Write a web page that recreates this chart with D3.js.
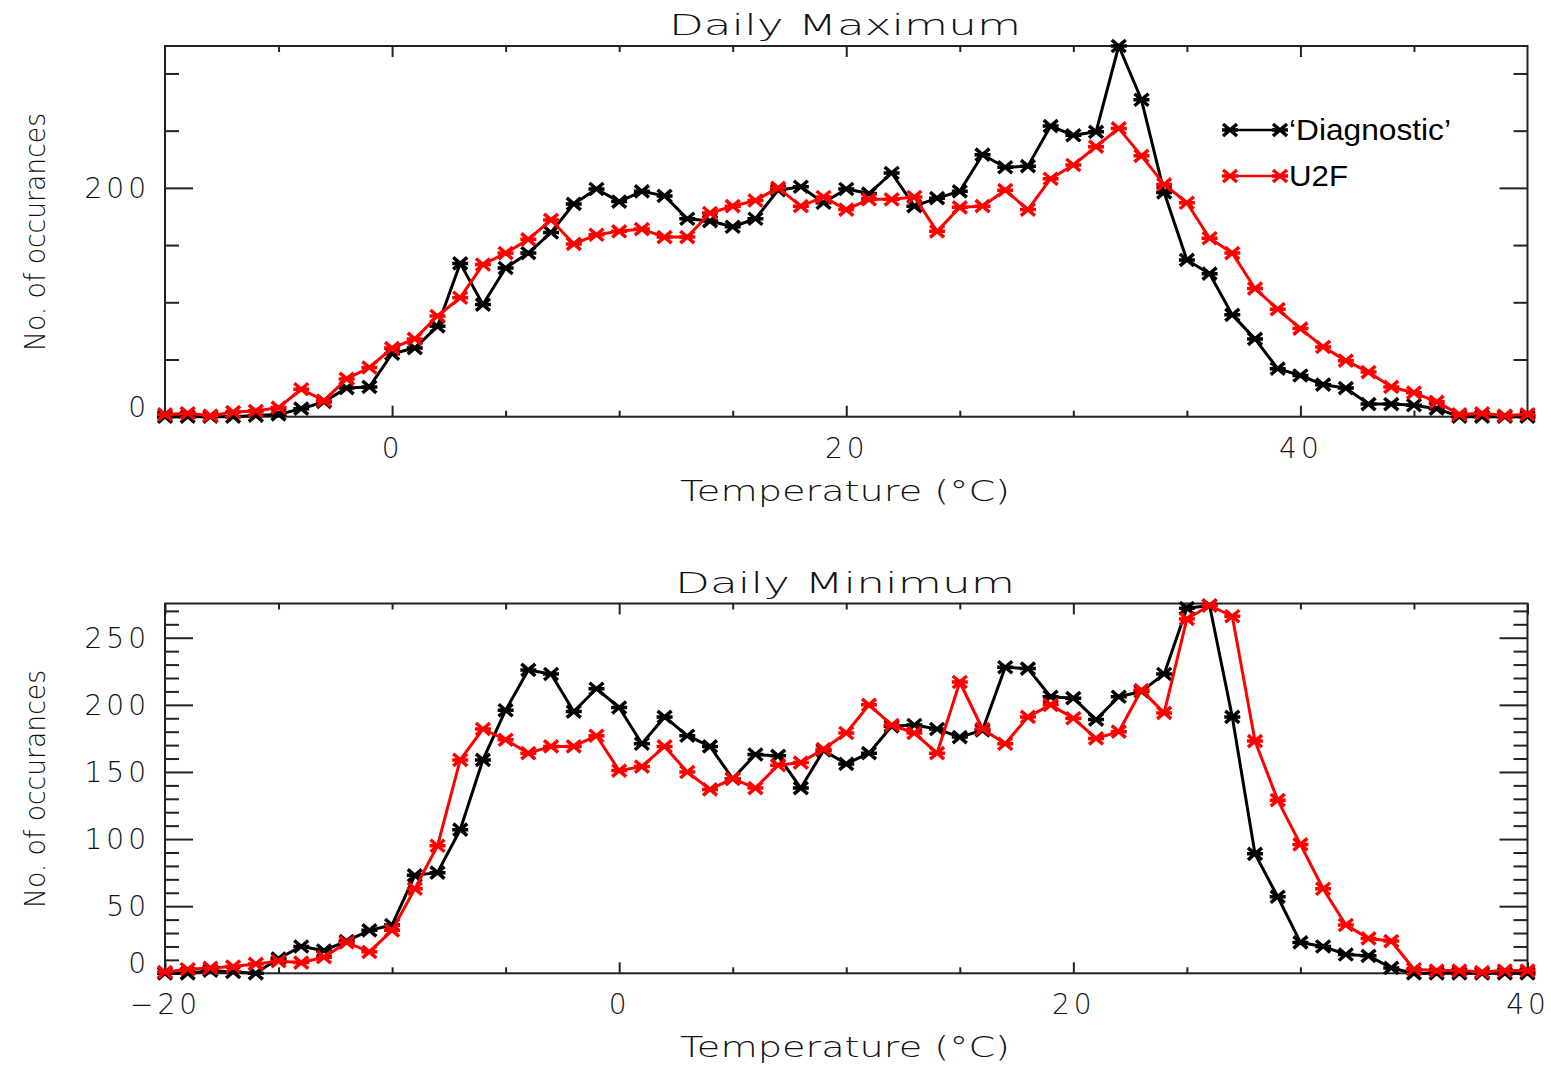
<!DOCTYPE html>
<html>
<head>
<meta charset="utf-8">
<script src="https://cdn.jsdelivr.net/npm/d3@7"></script>
<style>
  html, body { margin: 0; padding: 0; background: #fff; }
  svg text.idl { font-family: "DejaVu Sans", sans-serif; font-weight: 200; fill: #111; }
  svg text.leg { font-family: "Liberation Sans", Arial, sans-serif; font-weight: 400; fill: #000; }
</style>
</head>
<body>
<div id="chart"></div>
<script>
"use strict";
// temperature bins (°C)
const tempMax = [-10,-9,-8,-7,-6,-5,-4,-3,-2,-1,0,1,2,3,4,5,6,7,8,9,10,11,12,13,14,15,16,17,18,19,20,
  21,22,23,24,25,26,27,28,29,30,31,32,33,34,35,36,37,38,39,40,41,42,43,44,45,46,47,48,49,50];
const tempMin = [-20,-19,-18,-17,-16,-15,-14,-13,-12,-11,-10,-9,-8,-7,-6,-5,-4,-3,-2,-1,0,1,2,3,4,5,6,7,8,9,10,
  11,12,13,14,15,16,17,18,19,20,21,22,23,24,25,26,27,28,29,30,31,32,33,34,35,36,37,38,39,40];

// daily maximum
const maxDiag = [0,0,0,0,1,2,7,13,25,26,55,60,79,134,98,130,143,161,186,199,188,197,193,173,171,166,173,198,201,187,199,
  195,213,184,191,197,229,218,219,254,246,249,324,277,196,137,125,89,68,42,36,28,25,11,11,10,7,0,0,0,0];
const maxU2F = [2,3,1,4,5,8,24,14,33,43,60,68,88,104,133,143,155,172,151,159,162,164,157,157,178,184,189,200,184,192,181,
  190,190,192,162,183,184,198,181,208,220,236,252,228,203,187,156,143,112,94,77,61,49,39,26,21,13,2,3,1,2];

// daily minimum
const minDiag = [0,0,2,1,0,11,20,17,24,32,36,73,75,107,159,196,226,223,195,212,198,171,191,177,169,145,163,162,138,166,156,
  164,184,185,182,176,181,228,227,206,205,189,206,210,223,272,274,191,89,57,23,20,14,13,4,0,0,0,0,0,0];
const minU2F = [1,3,4,5,7,9,8,12,23,16,32,63,95,159,182,174,164,169,169,177,151,154,169,150,137,145,138,155,157,167,179,
  200,185,179,164,217,182,171,191,200,190,175,180,211,194,264,274,266,173,129,96,63,36,26,24,3,2,2,1,2,2];

const seriesNames = ["\u2018Diagnostic\u2019", "U2F"];
const seriesColors = ["#000000", "#ff0000"];

const W = 1551, H = 1065;
const svg = d3.select("#chart").append("svg").attr("width", W).attr("height", H);

const marker = "M-7,-6L7,6M-7,6L7,-6M-8,0L8,0";

function panel(p) {
  const x = d3.scaleLinear().domain(p.xDomain).range([165, 1527.5]);
  const y = d3.scaleLinear().domain(p.yDomain).range([p.bottom, p.top]);
  const g = svg.append("g");

  // ticks: minor then major, all pointing inward
  const addAxis = (axisFn, vals, size, pos, labels, pad) => {
    const ax = axisFn(axisFn === d3.axisLeft || axisFn === d3.axisRight ? y : x)
      .tickValues(vals).tickSizeInner(-size).tickSizeOuter(0).tickPadding(pad || 0)
      .tickFormat(labels ? (d => d < 0 ? "\u2212" + Math.abs(d) : d) : "");
    const a = g.append("g").attr("transform", pos).call(ax);
    a.select(".domain").remove();
    a.selectAll("line").attr("stroke", "#222").attr("stroke-width", 2);
    a.selectAll("text").attr("class", "idl").attr("font-size", 28).attr("letter-spacing", 4);
    return a;
  };
  addAxis(d3.axisLeft, p.yMinor, 14, "translate(165,0)");
  const yl = addAxis(d3.axisLeft, p.yMajor, 28, "translate(165,0)", true, 15);
  addAxis(d3.axisRight, p.yMinor, 14, "translate(1527.5,0)");
  addAxis(d3.axisRight, p.yMajor, 28, "translate(1527.5,0)");
  addAxis(d3.axisBottom, p.xMinor, 6, `translate(0,${p.bottom})`);
  addAxis(d3.axisBottom, p.xMajor, 11, `translate(0,${p.bottom})`, true, 21);
  addAxis(d3.axisTop, p.xMinor, 6, `translate(0,${p.top})`);
  addAxis(d3.axisTop, p.xMajor, 11, `translate(0,${p.top})`);

  yl.selectAll("text").attr("dy", d => d === 0 ? "-0.02em" : "0.34em");

  // frame
  g.append("rect").attr("x", 165).attr("y", p.top)
    .attr("width", 1527.5 - 165).attr("height", p.bottom - p.top)
    .attr("fill", "none").attr("stroke", "#222").attr("stroke-width", 2);

  const line = d3.line().x((d, i) => x(p.temps[i])).y(d => y(d));
  p.series.forEach((s, k) => {
    g.append("path").datum(s).attr("d", line)
      .attr("fill", "none").attr("stroke", seriesColors[k]).attr("stroke-width", 3)
      .attr("stroke-linejoin", "round");
    g.append("g").selectAll("path").data(s).join("path")
      .attr("transform", (d, i) => `translate(${x(p.temps[i])},${y(d)})`)
      .attr("d", marker).attr("stroke", seriesColors[k]).attr("stroke-width", 3.5).attr("fill", "none");
  });

  // titles
  g.append("text").attr("class", "idl").attr("x", 845).attr("y", p.top - 11).attr("text-anchor", "middle")
    .attr("font-size", 29).attr("textLength", p.titleLen).attr("lengthAdjust", "spacingAndGlyphs")
    .text(p.title);
  g.append("text").attr("class", "idl").attr("x", 845).attr("y", p.bottom + 84).attr("text-anchor", "middle")
    .attr("font-size", 29).attr("textLength", 330).attr("lengthAdjust", "spacingAndGlyphs")
    .text("Temperature (\u00b0C)");
  g.append("text").attr("class", "idl").attr("transform", `translate(45,${p.labelY}) rotate(-90)`)
    .attr("text-anchor", "middle")
    .attr("font-size", 29).attr("textLength", 238).attr("lengthAdjust", "spacingAndGlyphs")
    .text("No. of occurances");
  return {x, y};
}

panel({
  xDomain: [-10, 50], yDomain: [0, 324], top: 46, bottom: 416.7,
  xMajor: [0, 20, 40], xMinor: [-5, 5, 10, 15, 25, 30, 35, 45],
  yMajor: [0, 200], yMinor: [50, 100, 150, 250, 300],
  temps: tempMax, series: [maxDiag, maxU2F],
  title: "Daily  Maximum", titleLen: 352, labelY: 232
});
panel({
  xDomain: [-20, 40], yDomain: [0, 275.5], top: 603.5, bottom: 973.3,
  xMajor: [-20, 0, 20, 40], xMinor: [-15, -10, -5, 5, 10, 15, 25, 30, 35],
  yMajor: [0, 50, 100, 150, 200, 250], yMinor: [10,20,30,40,60,70,80,90,110,120,130,140,160,170,180,190,210,220,230,240,260,270],
  temps: tempMin, series: [minDiag, minU2F],
  title: "Daily  Minimum", titleLen: 340, labelY: 789
});

// legend (top panel)
const leg = svg.append("g");
seriesNames.forEach((name, k) => {
  const yy = 130 + k * 46;
  leg.append("line").attr("x1", 1230).attr("x2", 1280).attr("y1", yy).attr("y2", yy)
    .attr("stroke", seriesColors[k]).attr("stroke-width", 2.5);
  [1230, 1280].forEach(xx => leg.append("path").attr("d", marker)
    .attr("transform", `translate(${xx},${yy})`).attr("stroke", seriesColors[k]).attr("stroke-width", 3.5).attr("fill", "none"));
  leg.append("text").attr("class", "leg").attr("x", 1289).attr("y", yy + 10)
    .attr("font-size", 29).attr("textLength", k === 0 ? 162 : 59).attr("lengthAdjust", "spacingAndGlyphs")
    .text(name);
});
</script>
</body>
</html>
